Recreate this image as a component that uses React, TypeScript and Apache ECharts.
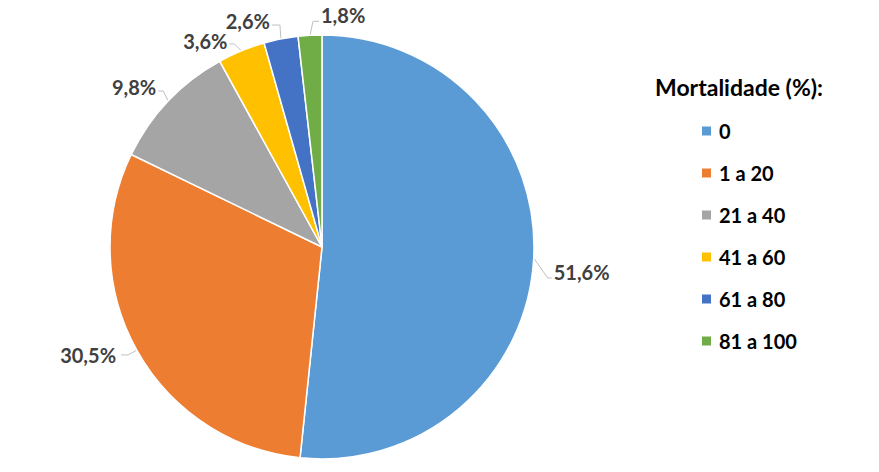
import React, { useEffect, useRef } from "react";
import * as echarts from "echarts";

const categories = ["0", "1 a 20", "21 a 40", "41 a 60", "61 a 80", "81 a 100"];
const values = [51.6, 30.5, 9.8, 3.6, 2.6, 1.8];
const colors = ["#5B9BD5", "#ED7D31", "#A5A5A5", "#FFC000", "#4472C4", "#70AD47"];
const legendTitle = "Mortalidade (%):";

// leader-line shapes (first segment offset, horizontal segment length, text vertical offset)
const leaders: Record<number, { d1: [number, number]; d2: number; ty: number }> = {
  0: { d1: [14, 20], d2: 4, ty: -6 },
  2: { d1: [-5, -10], d2: -5, ty: -4 },
  3: { d1: [-7, -7], d2: -5, ty: -3 },
  4: { d1: [-1, -14], d2: -8, ty: -4 },
  5: { d1: [3, -14], d2: 6, ty: -6 },
};

export default function App() {
  const ref = useRef<HTMLDivElement>(null);
  useEffect(() => {
    document.body.style.margin = "0";
    const chart = echarts.init(ref.current!, null, { renderer: "svg" });
    chart.setOption({
      animation: false,
      backgroundColor: "#ffffff",
      title: {
        text: legendTitle,
        left: 655,
        top: 75,
        padding: 0,
        textStyle: { fontFamily: "Lato", fontWeight: "bold", fontSize: 23, color: "#000000" },
      },
      legend: {
        orient: "vertical",
        left: 695,
        top: 116,
        itemWidth: 11,
        itemHeight: 11,
        itemGap: 22,
        icon: "rect",
        textStyle: { fontFamily: "Lato", fontWeight: "bold", fontSize: 20, color: "#000000", padding: [0, 0, 0, 2] },
        data: categories,
      },
      series: [
        {
          type: "pie",
          center: [322, 247],
          radius: 212,
          startAngle: 90,
          clockwise: true,
          itemStyle: { borderColor: "#ffffff", borderWidth: 1.5 },
          label: {
            show: true,
            position: "outside",
            formatter: (p: any) => String(p.value).replace(".", ",") + "%",
            fontFamily: "Lato",
            fontWeight: "bold",
            fontSize: 20,
            color: "#404040",
          },
          labelLine: { show: true, length: 10, length2: 7, lineStyle: { color: "#BFBFBF", width: 1 } },
          labelLayout: (params: any) => {
            const pts = params.labelLinePoints;
            const L = leaders[params.dataIndex];
            if (!pts || !L) return {};
            const p0 = pts[0];
            const p1 = [p0[0] + L.d1[0], p0[1] + L.d1[1]];
            const p2 = [p1[0] + L.d2, p1[1]];
            const right = L.d2 > 0;
            return {
              x: p2[0] + (right ? 2 : -2),
              y: p2[1] + L.ty,
              align: right ? "left" : "right",
              verticalAlign: "middle",
              labelLinePoints: [p0, p1, p2],
            };
          },
          data: categories.map((c, i) => ({ name: c, value: values[i], itemStyle: { color: colors[i] } })),
        },
      ],
    });
    return () => chart.dispose();
  }, []);
  return <div ref={ref} style={{ width: 879, height: 472 }} />;
}
